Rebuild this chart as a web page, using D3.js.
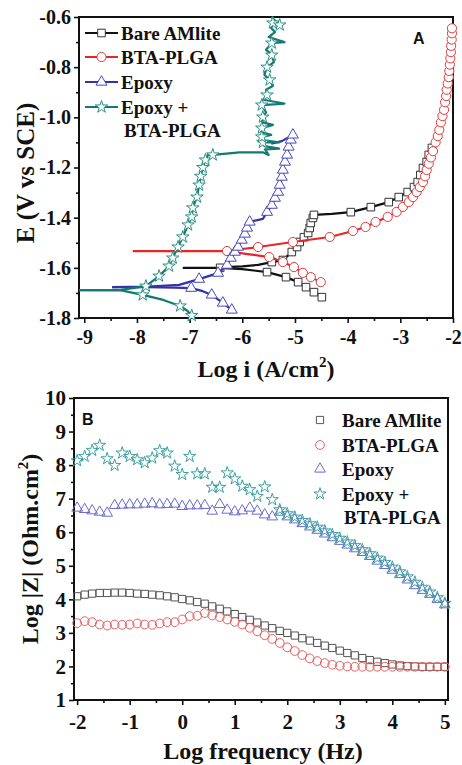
<!DOCTYPE html>
<html><head><meta charset="utf-8">
<script src="https://cdn.jsdelivr.net/npm/d3@7"></script>
<style>
html,body{margin:0;padding:0;background:#fff;}
svg{display:block;}
text{font-family:"Liberation Serif","Times New Roman",serif;font-weight:bold;fill:#111;}
</style></head><body>
<svg id="c" width="462" height="765"></svg>
<script>
// ---------------- Panel A data (Log i, E) ----------------
const seriesNames = ["Bare AMlite","BTA-PLGA","Epoxy","Epoxy +|BTA-PLGA"];
const aXTicks = [-9,-8,-7,-6,-5,-4,-3,-2];
const aYTicks = [-0.6,-0.8,-1.0,-1.2,-1.4,-1.6,-1.8];

const bareCath = [[-7.13,-1.600],[-6.8,-1.600],[-6.42,-1.600],[-6.0,-1.605],[-5.53,-1.617],[-5.17,-1.637],[-4.94,-1.657],[-4.79,-1.677],[-4.64,-1.697],[-4.49,-1.717]];
const bareCathMarks = [[-6.42,-1.600],[-5.53,-1.617],[-5.17,-1.637],[-4.94,-1.657],[-4.79,-1.677],[-4.64,-1.697],[-4.49,-1.717]];
const bareAnod = [[-6.42,-1.598],[-6.0,-1.594],[-5.7,-1.588],[-5.44,-1.577],[-5.23,-1.569],[-5.06,-1.537],[-4.96,-1.517],[-4.91,-1.497],[-4.83,-1.478],[-4.75,-1.461],[-4.72,-1.441],[-4.70,-1.421],[-4.66,-1.401],[-4.64,-1.389],[-4.3,-1.385],[-3.94,-1.378],[-3.56,-1.358],[-3.22,-1.338],[-3.03,-1.318],[-2.86,-1.298],[-2.74,-1.278],[-2.67,-1.258],[-2.62,-1.230],[-2.57,-1.202],[-2.50,-1.178],[-2.46,-1.150],[-2.40,-1.122],[-2.31,-1.05],[-2.21,-0.98],[-2.14,-0.93]];
const bareAnodMarks = [[-5.44,-1.577],[-5.23,-1.569],[-5.06,-1.537],[-4.96,-1.517],[-4.91,-1.497],[-4.83,-1.478],[-4.75,-1.461],[-4.72,-1.441],[-4.70,-1.421],[-4.66,-1.401],[-4.64,-1.389],[-3.94,-1.378],[-3.56,-1.358],[-3.22,-1.338],[-3.03,-1.318],[-2.86,-1.298],[-2.74,-1.278],[-2.67,-1.258],[-2.62,-1.230],[-2.57,-1.202],[-2.50,-1.178],[-2.46,-1.150],[-2.40,-1.122]];

const redCath = [[-8.08,-1.533],[-7.0,-1.533],[-6.29,-1.533],[-5.9,-1.545],[-5.49,-1.557],[-5.23,-1.577],[-5.02,-1.597],[-4.85,-1.620],[-4.70,-1.637],[-4.51,-1.657]];
const redCathMarks = [[-6.29,-1.533],[-5.49,-1.557],[-5.23,-1.577],[-5.02,-1.597],[-4.85,-1.620],[-4.70,-1.637],[-4.51,-1.657]];
const redAnod = [[-6.29,-1.533],[-6.0,-1.525],[-5.70,-1.517],[-5.04,-1.497],[-4.34,-1.477],[-3.90,-1.453],[-3.66,-1.437],[-3.47,-1.417],[-3.24,-1.397],[-3.07,-1.377],[-2.95,-1.357],[-2.84,-1.338],[-2.76,-1.318],[-2.69,-1.298],[-2.63,-1.278],[-2.57,-1.258],[-2.53,-1.235],[-2.50,-1.210],[-2.46,-1.185],[-2.42,-1.160],[-2.38,-1.135],[-2.33,-1.10],[-2.29,-1.075],[-2.26,-1.05],[-2.23,-1.02],[-2.20,-0.995],[-2.17,-0.97],[-2.15,-0.94],[-2.13,-0.915],[-2.12,-0.89],[-2.10,-0.865],[-2.08,-0.84],[-2.07,-0.815],[-2.06,-0.79],[-2.05,-0.765],[-2.04,-0.74],[-2.035,-0.715],[-2.025,-0.69],[-2.02,-0.665],[-2.02,-0.645]];
const redAnodMarks = redAnod.slice(2);

const blueCath = [[-8.47,-1.677],[-7.8,-1.677],[-7.3,-1.679],[-6.97,-1.681],[-6.75,-1.693],[-6.58,-1.708],[-6.37,-1.740],[-6.20,-1.768]];
const blueCathMarks = [[-6.97,-1.681],[-6.58,-1.708],[-6.37,-1.740],[-6.20,-1.768]];
const blueAnod = [[-8.47,-1.677],[-7.8,-1.675],[-7.2,-1.668],[-6.82,-1.645],[-6.46,-1.621],[-6.29,-1.589],[-6.22,-1.561],[-6.14,-1.537],[-6.08,-1.517],[-6.01,-1.489],[-5.95,-1.465],[-5.91,-1.441],[-5.86,-1.417],[-5.61,-1.405],[-5.53,-1.378],[-5.44,-1.350],[-5.38,-1.322],[-5.32,-1.298],[-5.29,-1.270],[-5.25,-1.238],[-5.23,-1.210],[-5.19,-1.178],[-5.15,-1.150],[-5.12,-1.118],[-5.08,-1.090],[-5.04,-1.070],[-5.25,-1.095],[-5.45,-1.105]];
const blueAnodMarks = [[-6.82,-1.645],[-6.46,-1.621],[-6.29,-1.589],[-6.22,-1.561],[-6.14,-1.537],[-6.08,-1.517],[-6.01,-1.489],[-5.95,-1.465],[-5.91,-1.441],[-5.86,-1.417],[-5.53,-1.378],[-5.44,-1.350],[-5.38,-1.322],[-5.32,-1.298],[-5.29,-1.270],[-5.25,-1.238],[-5.23,-1.210],[-5.19,-1.178],[-5.15,-1.150],[-5.12,-1.118],[-5.08,-1.090],[-5.04,-1.070]];

const tealCath = [[-9.1,-1.689],[-8.3,-1.690],[-7.89,-1.708],[-7.5,-1.728],[-7.18,-1.752],[-7.05,-1.770],[-6.96,-1.790]];
const tealCathMarks = [[-7.89,-1.708],[-7.18,-1.752],[-6.96,-1.790]];
const tealAnod = [[-9.1,-1.689],[-8.3,-1.688],[-7.83,-1.673],[-7.58,-1.633],[-7.39,-1.593],[-7.32,-1.561],[-7.22,-1.517],[-7.13,-1.477],[-7.03,-1.429],[-6.96,-1.397],[-6.94,-1.361],[-6.86,-1.318],[-6.82,-1.270],[-6.79,-1.235],[-6.75,-1.200],[-6.70,-1.170],[-6.65,-1.150],[-6.56,-1.150],[-6.05,-1.140],[-5.60,-1.140],[-5.50,-1.150],[-5.57,-1.128],[-5.30,-1.125],[-5.58,-1.115],[-5.61,-1.10],[-5.30,-1.10],[-5.58,-1.092],[-5.63,-1.078],[-5.45,-1.07],[-5.63,-1.06],[-5.63,-1.043],[-5.42,-1.03],[-5.62,-1.02],[-5.61,-0.999],[-5.55,-0.98],[-5.63,-0.951],[-5.20,-0.945],[-5.60,-0.93],[-5.53,-0.911],[-5.55,-0.89],[-5.42,-0.875],[-5.48,-0.851],[-5.58,-0.83],[-5.53,-0.80],[-5.40,-0.78],[-5.44,-0.752],[-5.55,-0.73],[-5.44,-0.704],[-5.20,-0.70],[-5.50,-0.68],[-5.38,-0.66],[-5.45,-0.645],[-5.42,-0.624],[-5.29,-0.632],[-5.45,-0.60]];
const tealAnodMarks = [[-7.83,-1.673],[-7.58,-1.633],[-7.39,-1.593],[-7.32,-1.561],[-7.22,-1.517],[-7.13,-1.477],[-7.03,-1.429],[-6.96,-1.397],[-6.94,-1.361],[-6.86,-1.318],[-6.82,-1.270],[-6.79,-1.235],[-6.75,-1.200],[-6.70,-1.170],[-6.56,-1.150],[-5.61,-1.10],[-5.63,-1.078],[-5.63,-1.043],[-5.61,-0.999],[-5.63,-0.951],[-5.53,-0.911],[-5.48,-0.851],[-5.53,-0.80],[-5.44,-0.752],[-5.44,-0.704],[-5.42,-0.624],[-5.29,-0.632]];

// ---------------- Panel B data (Log f, Log |Z|) ----------------
const bXTicks = [-2,-1,0,1,2,3,4,5];
const bYTicks = [1,2,3,4,5,6,7,8,9,10];
const logFreq = [-2,-1.857,-1.714,-1.571,-1.429,-1.286,-1.143,-1,-0.857,-0.714,-0.571,-0.429,-0.286,-0.143,0,0.143,0.286,0.429,0.571,0.714,0.857,1,1.143,1.286,1.429,1.571,1.714,1.857,2,2.143,2.286,2.429,2.571,2.714,2.857,3,3.143,3.286,3.429,3.571,3.714,3.857,4,4.143,4.286,4.429,4.571,4.714,4.857,5];
const zBare = [4.09,4.14,4.17,4.19,4.19,4.20,4.20,4.19,4.17,4.16,4.14,4.12,4.09,4.06,4.01,3.97,3.92,3.87,3.79,3.72,3.64,3.56,3.47,3.39,3.31,3.22,3.14,3.06,3.00,2.92,2.84,2.77,2.70,2.62,2.55,2.47,2.40,2.33,2.25,2.19,2.14,2.10,2.06,2.03,2.01,2.00,1.99,1.99,1.99,1.99];
const zBta = [3.29,3.35,3.32,3.25,3.22,3.25,3.24,3.25,3.28,3.25,3.24,3.28,3.32,3.32,3.40,3.50,3.51,3.59,3.52,3.47,3.40,3.33,3.25,3.15,3.05,2.93,2.82,2.70,2.57,2.46,2.34,2.24,2.16,2.10,2.05,2.02,2.00,1.99,1.99,1.99,1.99,1.99,1.99,1.99,1.99,1.99,1.99,1.99,1.99,1.99];
const zEpoxy = [6.72,6.68,6.64,6.60,6.57,6.80,6.81,6.82,6.82,6.84,6.85,6.82,6.83,6.84,6.77,6.79,6.79,6.80,6.63,6.83,6.66,6.61,6.64,6.72,6.63,6.52,6.46,6.60,6.46,6.37,6.26,6.16,6.06,5.95,5.84,5.73,5.62,5.51,5.40,5.28,5.14,5.01,4.87,4.74,4.58,4.41,4.27,4.15,4.00,3.84];
const zEpoxyBta = [8.13,8.26,8.44,8.59,8.19,7.99,8.36,8.26,8.16,8.07,8.21,8.43,8.36,7.97,7.72,8.26,7.74,7.74,7.34,7.34,7.77,7.59,7.37,7.27,7.07,7.35,6.97,6.67,6.55,6.45,6.35,6.25,6.15,6.04,5.93,5.82,5.71,5.60,5.48,5.36,5.23,5.10,4.96,4.82,4.67,4.51,4.36,4.22,4.05,3.88];

// ---------------- styles ----------------
const lineCol = ["#111111","#e8262a","#3434a8","#137a72"];
const markColA = ["#333333","#e03a3a","#4848c0","#2a9088"];
const markColB = ["#555555","#e86060","#6b6bd0","#3aa0a0"];
const shapes = [d3.symbolSquare, d3.symbolCircle, d3.symbolTriangle, d3.symbolStar];
const sizesA = [58, 66, 52, 48];
const sizesB = [52, 60, 50, 46];

const svg = d3.select("#c");

// ---------------- Panel A ----------------
const A = {l:79, r:453, t:17, b:318};
const xA = d3.scaleLinear().domain([-9.1,-2]).range([A.l,A.r]);
const yA = d3.scaleLinear().domain([-1.8,-0.6]).range([A.b,A.t]);

function axes(P, x, y, xt, yt, xMinor, yMinor, xfmt, yfmt, xPad, yPad, fs){
  const gx = svg.append("g").attr("transform",`translate(0,${P.b})`)
    .call(d3.axisBottom(x).tickValues(xt).tickSize(5).tickPadding(xPad).tickFormat(xfmt));
  const gxm = svg.append("g").attr("transform",`translate(0,${P.b})`)
    .call(d3.axisBottom(x).tickValues(xMinor).tickSize(3).tickFormat(""));
  const gy = svg.append("g").attr("transform",`translate(${P.l},0)`)
    .call(d3.axisLeft(y).tickValues(yt).tickSize(5).tickPadding(yPad).tickFormat(yfmt));
  const gym = svg.append("g").attr("transform",`translate(${P.l},0)`)
    .call(d3.axisLeft(y).tickValues(yMinor).tickSize(3).tickFormat(""));
  [gx,gxm,gy,gym].forEach(g=>{
    g.select(".domain").remove();
    g.selectAll("line").attr("stroke","#111").attr("stroke-width",1.6);
    g.selectAll("text").style("font-family",'"Liberation Serif",serif').style("font-weight","bold").style("font-size",fs+"px").attr("fill","#111");
  });
  svg.append("rect").attr("x",P.l).attr("y",P.t).attr("width",P.r-P.l).attr("height",P.b-P.t)
    .attr("fill","none").attr("stroke","#111").attr("stroke-width",2);
}
axes(A, xA, yA, aXTicks, aYTicks, [-8.5,-7.5,-6.5,-5.5,-4.5,-3.5,-2.5], [-0.7,-0.9,-1.1,-1.3,-1.5,-1.7],
     d=>String(d), d=>d.toFixed(1), 7, 3, 20);

svg.append("clipPath").attr("id","clipA").append("rect").attr("x",A.l).attr("y",A.t-6).attr("width",A.r-A.l+6).attr("height",A.b-A.t+12);
const gA = svg.append("g").attr("clip-path","url(#clipA)");
const lineA = d3.line().x(d=>xA(d[0])).y(d=>yA(d[1]));
const seriesA = [
  [bareCath,bareAnod,bareCathMarks,bareAnodMarks],
  [redCath,redAnod,redCathMarks,redAnodMarks],
  [blueCath,blueAnod,blueCathMarks,blueAnodMarks],
  [tealCath,tealAnod,tealCathMarks,tealAnodMarks]
];
[0,1,2,3].forEach(i=>{
  const s = seriesA[i];
  [s[0],s[1]].forEach(arr=>{
    gA.append("path").datum(arr).attr("d",lineA).attr("fill","none")
      .attr("stroke",lineCol[i]).attr("stroke-width",2.2).attr("stroke-linejoin","round");
  });
  const marks = s[2].concat(s[3]);
  gA.selectAll(null).data(marks).enter().append("path")
    .attr("d",d3.symbol().type(shapes[i]).size(sizesA[i]))
    .attr("transform",d=>`translate(${xA(d[0])},${yA(d[1])})`)
    .attr("fill","#fff").attr("stroke",markColA[i]).attr("stroke-width",1);
});

// Legend A
const legA = {x1:85, x2:118, tx:121, ys:[33,57,82,107]};
seriesNames.forEach((n,i)=>{
  const y = legA.ys[i];
  svg.append("line").attr("x1",legA.x1).attr("x2",legA.x2).attr("y1",y).attr("y2",y)
    .attr("stroke",lineCol[i]).attr("stroke-width",2.2);
  svg.append("path").attr("d",d3.symbol().type(shapes[i]).size(sizesA[i])())
    .attr("transform",`translate(${(legA.x1+legA.x2)/2},${y})`)
    .attr("fill","#fff").attr("stroke",markColA[i]).attr("stroke-width",1);
  const parts = n.split("|");
  svg.append("text").attr("x",legA.tx).attr("y",y+6.5).style("font-size","19px").text(parts[0]);
  if(parts[1]) svg.append("text").attr("x",legA.tx+3).attr("y",y+30).style("font-size","19px").text(parts[1]);
});
svg.append("text").attr("x",413).attr("y",44).style("font-family",'"Liberation Sans",Arial,sans-serif')
  .style("font-size","16px").text("A");

// axis titles A
const tA = svg.append("text").attr("x",(A.l+A.r)/2).attr("y",377).attr("text-anchor","middle").style("font-size","24px");
tA.append("tspan").text("Log i (A/cm");
tA.append("tspan").attr("dy",-10).style("font-size","15px").text("2");
tA.append("tspan").attr("dy",10).text(")");
svg.append("text").attr("transform",`translate(34,173) rotate(-90)`).attr("text-anchor","middle")
  .style("font-size","25px").text("E (V vs SCE)");

// ---------------- Panel B ----------------
const B = {l:74, r:448, t:398, b:700};
const xB = d3.scaleLinear().domain([-2.06,5.06]).range([B.l,B.r]);
const yB = d3.scaleLinear().domain([1,10]).range([B.b,B.t]);
axes(B, xB, yB, bXTicks, bYTicks, [-1.5,-0.5,0.5,1.5,2.5,3.5,4.5], [1.5,2.5,3.5,4.5,5.5,6.5,7.5,8.5,9.5],
     d=>String(d), d=>String(d), 9, 3, 21);

const seriesB = [zBare, zBta, zEpoxy, zEpoxyBta];
seriesB.forEach((vals,i)=>{
  svg.append("g").selectAll("path").data(vals).enter().append("path")
    .attr("d",d3.symbol().type(shapes[i]).size(sizesB[i]))
    .attr("transform",(d,j)=>`translate(${xB(logFreq[j])},${yB(d)})`)
    .attr("fill","none").attr("stroke",markColB[i]).attr("stroke-width",1);
});

// Legend B
const legB = {sx:320, tx:342, ys:[420,445,469,494]};
seriesNames.forEach((n,i)=>{
  const y = legB.ys[i];
  svg.append("path").attr("d",d3.symbol().type(shapes[i]).size(sizesB[i])())
    .attr("transform",`translate(${legB.sx},${y})`)
    .attr("fill","none").attr("stroke",markColB[i]).attr("stroke-width",1);
  const parts = n.split("|");
  svg.append("text").attr("x",legB.tx).attr("y",y+6.5).style("font-size","19px").text(parts[0]);
  if(parts[1]) svg.append("text").attr("x",legB.tx+2).attr("y",y+30).style("font-size","19px").text(parts[1]);
});
svg.append("text").attr("x",82).attr("y",425).style("font-family",'"Liberation Sans",Arial,sans-serif')
  .style("font-size","16px").text("B");

svg.append("text").attr("x",(B.l+B.r)/2+2).attr("y",759).attr("text-anchor","middle").style("font-size","24px").text("Log frequency (Hz)");
const tY = svg.append("text").attr("transform",`translate(38,${(B.t+B.b)/2}) rotate(-90)`).attr("text-anchor","middle").style("font-size","24px");
tY.append("tspan").text("Log |Z| (Ohm.cm");
tY.append("tspan").attr("dy",-10).style("font-size","15px").text("2");
tY.append("tspan").attr("dy",10).text(")");
</script>
</body></html>
